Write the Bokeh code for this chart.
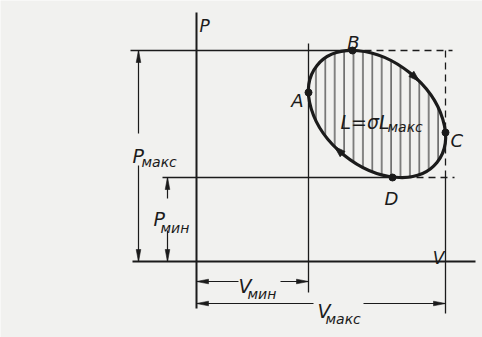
import numpy as np
from bokeh.plotting import figure
from bokeh.models import Range1d
from bokeh.core.properties import value
from bokeh.embed import file_html
from bokeh.resources import INLINE

# ---------------- data (arbitrary diagram units) ----------------
V_MIN = 112
V_MAX = 249
P_MIN = 84
P_MAX = 211
point_names = ["A", "B", "C", "D"]
point_V = [112, 156, 249, 196]
point_P = [169, 211, 129, 84]
axis_names = ["P", "V"]
dim_main = ["P", "P", "V", "V"]
dim_sub = ["макс", "мин", "мин", "макс"]
work_main = "L=σL"
work_sub = "макс"

# ---------------- styles / layout ----------------
FONT = value("DejaVu Sans")
INK = "#1b1b1b"
BG = "#f1f1ef"

p = figure(width=482, height=337, x_range=Range1d(-196, 286), y_range=Range1d(-76, 261),
           output_backend="svg", toolbar_location=None, min_border=0,
           x_axis_location=None, y_axis_location=None,
           background_fill_color=BG, border_fill_color=BG, outline_line_color=None)
p.grid.visible = False

# axes (P vertical, V horizontal)
p.segment(x0=[0, -64], y0=[-47, 0], x1=[0, 279], y1=[249, 0], line_color=INK, line_width=2)

# extension lines
ext_x0 = [-66, -34, V_MIN, V_MAX]
ext_y0 = [P_MAX, P_MIN, -31, -52]
ext_x1 = [point_V[1], point_V[3], V_MIN, V_MAX]
ext_y1 = [P_MAX, P_MIN, 218, P_MIN]
p.segment(x0=ext_x0, y0=ext_y0, x1=ext_x1, y1=ext_y1, line_color=INK, line_width=1.3)
# dashed continuations
p.segment(x0=[point_V[1], point_V[3], V_MAX], y0=[P_MAX, P_MIN, P_MIN],
          x1=[256, 258, V_MAX], y1=[P_MAX, P_MIN, 215],
          line_color=INK, line_width=1.3, line_dash="7 5")

# dimension lines (with gaps for labels)
dx0 = [-58, -58, -29, -29, 0, 84, 0, 167]
dy0 = [0, 128, 0, 63, -20, -20, -42, -42]
dx1 = [-58, -58, -29, -29, 42, V_MIN, 117, V_MAX]
dy1 = [96, P_MAX, 31, P_MIN, -20, -20, -42, -42]
p.segment(x0=dx0, y0=dy0, x1=dx1, y1=dy1, line_color=INK, line_width=1.2)


def heads(tips, dirs, length=12.0, half=2.3):
    xs, ys = [], []
    for (tx, ty), (ddx, ddy) in zip(tips, dirs):
        n = np.hypot(ddx, ddy)
        ux, uy = ddx / n, ddy / n
        bx, by = tx - ux * length, ty - uy * length
        xs.append([tx, bx - uy * half, bx + uy * half])
        ys.append([ty, by + ux * half, by - ux * half])
    return xs, ys


tips = [(-58, P_MAX), (-58, 0), (-29, P_MIN), (-29, 0),
        (0, -20), (V_MIN, -20), (0, -42), (V_MAX, -42)]
dirs = [(0, 1), (0, -1), (0, 1), (0, -1), (-1, 0), (1, 0), (-1, 0), (1, 0)]
hx, hy = heads(tips, dirs)
p.patches(hx, hy, fill_color=INK, line_color=INK, line_width=0.6)

# cycle ellipse (bounded by V_MIN..V_MAX, P_MIN..P_MAX, top point at B)
Vc, Pc = (V_MIN + V_MAX) / 2, (P_MIN + P_MAX) / 2
X, Y = (V_MAX - V_MIN) / 2, (P_MAX - P_MIN) / 2
cd = (point_V[1] - Vc) / X
delta = np.arccos(cd)
M = np.array([[X * X, X * Y * cd], [X * Y * cd, Y * Y]])
w, vecs = np.linalg.eigh(M)
a_ax, b_ax = np.sqrt(w[1]), np.sqrt(w[0])
ang = float(np.arctan2(vecs[1, 1], vecs[0, 1]))
p.ellipse(x=[Vc], y=[Pc], width=[2 * a_ax], height=[2 * b_ax], angle=[ang],
          fill_color=None, line_color=INK, line_width=3.2,
          hatch_pattern="vertical_line", hatch_color="#2a2a2a", hatch_scale=9.4, hatch_weight=1.1)

# direction arrows on the cycle (clockwise)
ts = [delta / 2, np.pi + delta / 2]
ctips, cdirs = [], []
for t in ts:
    px_, py_ = Vc + X * np.cos(t), Pc + Y * np.cos(t - delta)
    ddx, ddy = X * np.sin(t), Y * np.sin(t - delta)
    n = np.hypot(ddx, ddy)
    ctips.append((px_ + 5 * ddx / n, py_ + 5 * ddy / n))
    cdirs.append((ddx, ddy))
cx, cy = heads(ctips, cdirs, length=11, half=3.6)
p.patches(cx, cy, fill_color=INK, line_color=INK, line_width=0.8)

# points A, B, C, D
p.scatter(point_V, point_P, size=7, color=INK)

txt = dict(text_font=FONT, text_font_style="italic", text_color=INK, text_baseline="alphabetic")
# point labels
p.text(x=point_V, y=point_P, text=point_names, text_font_size="18px",
       x_offset=[-5, 1, 5, -1], y_offset=[8, -8, 8, 21],
       text_align=["right", "center", "left", "center"], **txt)
# axis labels
p.text(x=[3, 242], y=[236, 4], text=axis_names, text_font_size="17px",
       text_align=["left", "center"], **txt)
# dimension labels
p.text(x=[-64, -43, 42, 121], y=[106, 43, -24, -49], text=dim_main,
       text_font_size="19px", text_align="left", **txt)
p.text(x=[-55, -36, 51, 129], y=[100, 34, -32, -57], text=dim_sub,
       text_font_size="14px", text_align="left", **txt)
# work label
p.text(x=[144], y=[140], text=[work_main], text_font_size="19px", text_align="left", **txt)
p.text(x=[191], y=[135], text=[work_sub], text_font_size="14px", text_align="left", **txt)

open("out.html", "w").write(file_html(p, INLINE))
